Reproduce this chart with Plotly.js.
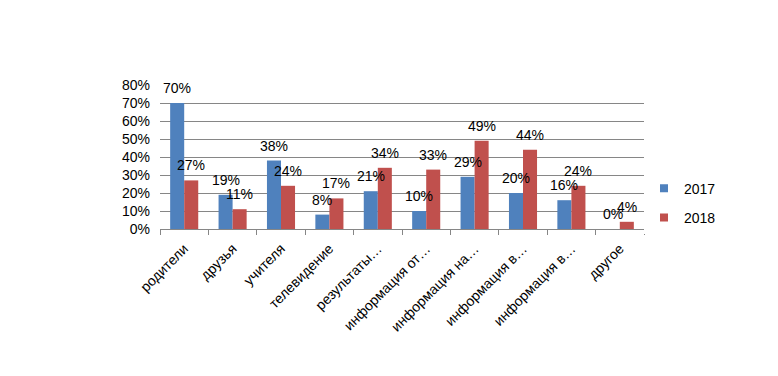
<!DOCTYPE html>
<html><head><meta charset="utf-8">
<script src="https://cdn.plot.ly/plotly-3.0.1.min.js"></script>
<style>html,body{margin:0;padding:0;background:#fff}#c{width:778px;height:376px}</style>
</head><body><div id="c"></div>
<script>
const categories = ["родители","друзья","учителя","телевидение","результаты…","информация от…","информация на…","информация в…","информация в…","другое"];
const seriesNames = ["2017","2018"];
const values2017 = [70,19,38,8,21,10,29,20,16,0];
const values2018 = [27,11,24,17,34,33,49,44,24,4];
const yTicks = [0,10,20,30,40,50,60,70,80];

const colors = ["#4F81BD","#C0504D"];
const font = "Liberation Sans, Arial, sans-serif";
const fs = 14;
const bargap = 0.42;
const half = (1 - bargap) / 4;
const idx = categories.map((_, i) => i);

const traces = [values2017, values2018].map((v, k) => ({
  type: "bar", x: idx, y: v, name: seriesNames[k],
  marker: {color: colors[k]}, showlegend: false, hoverinfo: "skip"
}));
// legend entries (small square keys like the reference)
seriesNames.forEach((n, k) => traces.push({
  type: "scatter", mode: "markers", x: [null], y: [null], name: n,
  marker: {symbol: "square", size: 8, color: colors[k]}, legendgroup: "g" + k, hoverinfo: "skip"
}));

const annotations = [];
[values2017, values2018].forEach((v, k) => {
  v.forEach((val, i) => {
    annotations.push({
      x: i + (k === 0 ? -half : half), y: val, xref: "x", yref: "y",
      text: val + "%", showarrow: false, yshift: 15, yanchor: "middle",
      font: {family: font, size: fs, color: "#000"}
    });
  });
});

const boundaries = categories.map((_, i) => i - 0.5).concat([categories.length - 0.5]);

const layout = {
  width: 778, height: 376,
  margin: {l: 160, r: 134, t: 85, b: 147},
  paper_bgcolor: "#fff", plot_bgcolor: "#fff",
  barmode: "group", bargap: bargap, bargroupgap: 0,
  showlegend: true,
  legend: {x: 1.0, xanchor: "left", y: 0.18, yanchor: "middle",
    font: {family: font, size: fs, color: "#000"}, tracegroupgap: 8, itemwidth: 30},
  xaxis: {
    range: [-0.5, categories.length - 0.5], tickmode: "array", tickvals: idx, ticktext: categories,
    tickangle: -45, ticks: "", showgrid: false, zeroline: false,
    showline: true, linecolor: "#868686", linewidth: 1, ticklabelstandoff: 5,
    tickfont: {family: font, size: fs, color: "#000"},
    minor: {tickmode: "array", tickvals: boundaries, ticks: "outside", ticklen: 5, tickcolor: "#868686", showgrid: false}
  },
  yaxis: {
    range: [0, 80], tickmode: "array", tickvals: yTicks, ticktext: yTicks.map(t => t + "%"),
    showgrid: true, gridcolor: "#868686", gridwidth: 1, zeroline: false, showline: false,
    ticks: "", ticklabelstandoff: 9,
    tickfont: {family: font, size: fs, color: "#000"}
  },
  annotations: annotations
};

Plotly.newPlot("c", traces, layout, {staticPlot: true, displayModeBar: false});
</script></body></html>
